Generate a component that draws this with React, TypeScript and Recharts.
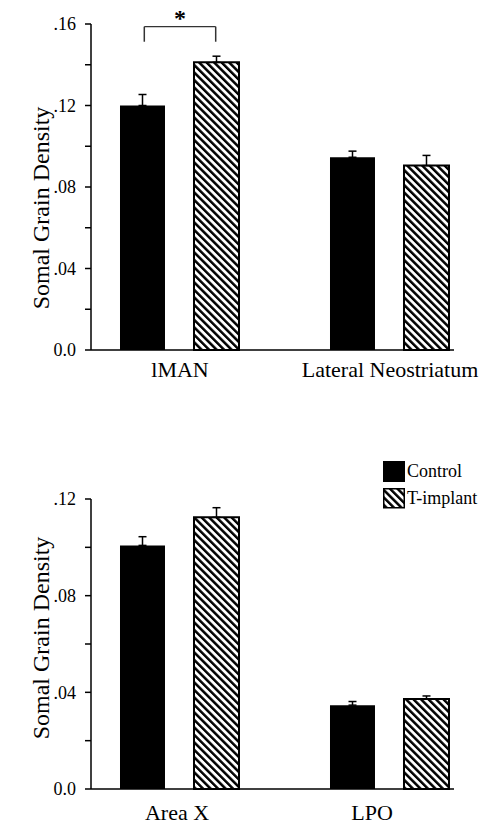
import React from 'react';
import { BarChart, Bar, XAxis, YAxis, ErrorBar, ReferenceLine, Legend } from 'recharts';

// ---------- data ----------
const seriesNames = ['Control', 'T-implant'];
const yAxisTitle = 'Somal Grain Density';

const topCategories = ['lMAN', 'Lateral Neostriatum'];
const topControl = [0.12, 0.0946];
const topControlErr = [0.0054, 0.003];
const topImplant = [0.1412, 0.0905];
const topImplantErr = [0.003, 0.005];
const topYTicks = [0, 0.02, 0.04, 0.06, 0.08, 0.1, 0.12, 0.14, 0.16];
const topYTickLabels = ['0.0', '', '.04', '', '.08', '', '.12', '', '.16'];

const bottomCategories = ['Area X', 'LPO'];
const bottomControl = [0.1008, 0.0347];
const bottomControlErr = [0.0036, 0.0015];
const bottomImplant = [0.1124, 0.0372];
const bottomImplantErr = [0.004, 0.0013];
const bottomYTicks = [0, 0.02, 0.04, 0.06, 0.08, 0.1, 0.12];
const bottomYTickLabels = ['0.0', '', '.04', '', '.08', '', '.12'];

// significance bracket (lMAN): data coordinates
const sigText = '*';
const sigX = [-0.17, 0.17];
const sigY = [0.1513, 0.1587];

const buildRows = (cats: string[], c: number[], ce: number[], t: number[], te: number[]) =>
  cats.map((name, i) => ({
    pos: i,
    name,
    control: c[i],
    controlErr: [0, ce[i]],
    implant: t[i],
    implantErr: [0, te[i]],
  }));

const topRows = buildRows(topCategories, topControl, topControlErr, topImplant, topImplantErr);
const bottomRows = buildRows(bottomCategories, bottomControl, bottomControlErr, bottomImplant, bottomImplantErr);

// ---------- styles ----------
const FONT = '"Liberation Serif", "Times New Roman", serif';
const X_DOMAIN: [number, number] = [-0.4238, 1.3048];

const HatchDefs = ({ id }: { id: string }) => (
  <defs>
    <pattern id={id} patternUnits="userSpaceOnUse" width={5.3} height={5.3} patternTransform="rotate(-45)">
      <rect x={0} y={0} width={5.3} height={5.3} fill="#fff" />
      <rect x={0} y={0} width={2.5} height={5.3} fill="#000" />
    </pattern>
  </defs>
);

const makeXTick = (labels: string[], offsets: number[]) => (props: any) => {
  const { x, y, payload } = props;
  const idx = Math.round(payload.value);
  return (
    <text
      x={x + (offsets[idx] || 0)}
      y={y}
      dy="0.71em"
      textAnchor="middle"
      style={{ fontFamily: FONT }}
      fontSize={22}
      fill="#000"
    >
      {labels[idx]}
    </text>
  );
};

const makeYTick = (labels: string[]) => (props: any) => {
  const { x, y, index } = props;
  return (
    <text x={x} y={y} dy="0.355em" textAnchor="end" style={{ fontFamily: FONT }} fontSize={18} fill="#000">
      {labels[index]}
    </text>
  );
};

const makeYLabel = (cy: number) => () => (
  <text
    transform={`translate(49, ${cy}) rotate(-90)`}
    textAnchor="middle"
    style={{ fontFamily: FONT }}
    fontSize={24}
    fill="#000"
  >
    {yAxisTitle}
  </text>
);

const LegendContent = () => (
  <svg width={105} height={50} style={{ display: 'block' }}>
    <defs>
      <pattern id="hatchLegend" patternUnits="userSpaceOnUse" width={5.3} height={5.3} patternTransform="rotate(-45)">
        <rect x={0} y={0} width={5.3} height={5.3} fill="#fff" />
        <rect x={0} y={0} width={2.5} height={5.3} fill="#000" />
      </pattern>
    </defs>
    <rect x={0} y={0} width={22} height={21} fill="#000" />
    <text x={24} y={16} style={{ fontFamily: FONT }} fontSize={18} fill="#000">{seriesNames[0]}</text>
    <rect x={0.75} y={27.75} width={20.5} height={19} fill="url(#hatchLegend)" stroke="#000" strokeWidth={1.5} />
    <text x={24} y={42.5} style={{ fontFamily: FONT }} fontSize={18} fill="#000">{seriesNames[1]}</text>
  </svg>
);

const axisLineStyle = { stroke: '#000', strokeWidth: 1.5 };

const SigLabel = (props: any) => {
  const vb = props.viewBox || {};
  const cx = (vb.x || 0) + (vb.width || 0) / 2;
  const cy = vb.y || 0;
  return (
    <text x={cx} y={cy - 1} textAnchor="middle" style={{ fontFamily: FONT }} fontSize={24} fontWeight="bold" fill="#000">
      {sigText}
    </text>
  );
};

export default function App() {
  return (
    <div style={{ position: 'absolute', left: 0, top: 0, width: 486, height: 826, background: '#fff', fontFamily: FONT }}>
      <div style={{ position: 'absolute', left: 0, top: 0 }}>
        <BarChart
          width={486}
          height={400}
          data={topRows}
          margin={{ top: 24, right: 32, bottom: 10, left: 31 }}
          barSize={45}
          barGap={29}
        >
          <HatchDefs id="hatchTop" />
          <XAxis
            type="number"
            dataKey="pos"
            domain={X_DOMAIN}
            allowDataOverflow
            ticks={[0, 1]}
            interval={0}
            height={40}
            tickLine={false}
            tickSize={0}
            tickMargin={11}
            axisLine={axisLineStyle}
            tick={makeXTick(topCategories, [0, 0])}
          />
          <YAxis
            type="number"
            domain={[0, 0.16]}
            ticks={topYTicks}
            interval={0}
            width={60}
            tickSize={6}
            tickMargin={9}
            tickLine={axisLineStyle}
            axisLine={axisLineStyle}
            tick={makeYTick(topYTickLabels)}
            label={{ content: makeYLabel(208) }}
          />
          <Bar dataKey="control" name={seriesNames[0]} fill="#000" isAnimationActive={false}>
            <ErrorBar dataKey="controlErr" direction="y" width={4} stroke="#000" strokeWidth={1.5} />
          </Bar>
          <Bar dataKey="implant" name={seriesNames[1]} fill="url(#hatchTop)" stroke="#000" strokeWidth={2} isAnimationActive={false}>
            <ErrorBar dataKey="implantErr" direction="y" width={4} stroke="#000" strokeWidth={1.5} />
          </Bar>
          <ReferenceLine
            segment={[{ x: sigX[0], y: sigY[1] }, { x: sigX[1], y: sigY[1] }]}
            stroke="#333"
            strokeWidth={1.2}
            ifOverflow="visible"
            label={<SigLabel />}
          />
          <ReferenceLine
            segment={[{ x: sigX[0], y: sigY[0] }, { x: sigX[0], y: sigY[1] }]}
            stroke="#333"
            strokeWidth={1.5}
            ifOverflow="visible"
          />
          <ReferenceLine
            segment={[{ x: sigX[1], y: sigY[0] }, { x: sigX[1], y: sigY[1] }]}
            stroke="#333"
            strokeWidth={1.5}
            ifOverflow="visible"
          />
        </BarChart>
      </div>
      <div style={{ position: 'absolute', left: 0, top: 400 }}>
        <BarChart
          width={486}
          height={426}
          data={bottomRows}
          margin={{ top: 99, right: 32, bottom: 7, left: 31 }}
          barSize={45}
          barGap={29}
        >
          <HatchDefs id="hatchBottom" />
          <XAxis
            type="number"
            dataKey="pos"
            domain={X_DOMAIN}
            allowDataOverflow
            ticks={[0, 1]}
            interval={0}
            height={30}
            tickLine={false}
            tickSize={0}
            tickMargin={15}
            axisLine={axisLineStyle}
            tick={makeXTick(bottomCategories, [-3, -18])}
          />
          <YAxis
            type="number"
            domain={[0, 0.12]}
            ticks={bottomYTicks}
            interval={0}
            width={60}
            tickSize={6}
            tickMargin={9}
            tickLine={axisLineStyle}
            axisLine={axisLineStyle}
            tick={makeYTick(bottomYTickLabels)}
            label={{ content: makeYLabel(238) }}
          />
          <Legend
            layout="vertical"
            align="center"
            verticalAlign="middle"
            wrapperStyle={{ left: 383, top: 61, width: 105 }}
            content={<LegendContent />}
          />
          <Bar dataKey="control" name={seriesNames[0]} fill="#000" isAnimationActive={false}>
            <ErrorBar dataKey="controlErr" direction="y" width={4} stroke="#000" strokeWidth={1.5} />
          </Bar>
          <Bar dataKey="implant" name={seriesNames[1]} fill="url(#hatchBottom)" stroke="#000" strokeWidth={2} isAnimationActive={false}>
            <ErrorBar dataKey="implantErr" direction="y" width={4} stroke="#000" strokeWidth={1.5} />
          </Bar>
        </BarChart>
      </div>
    </div>
  );
}
